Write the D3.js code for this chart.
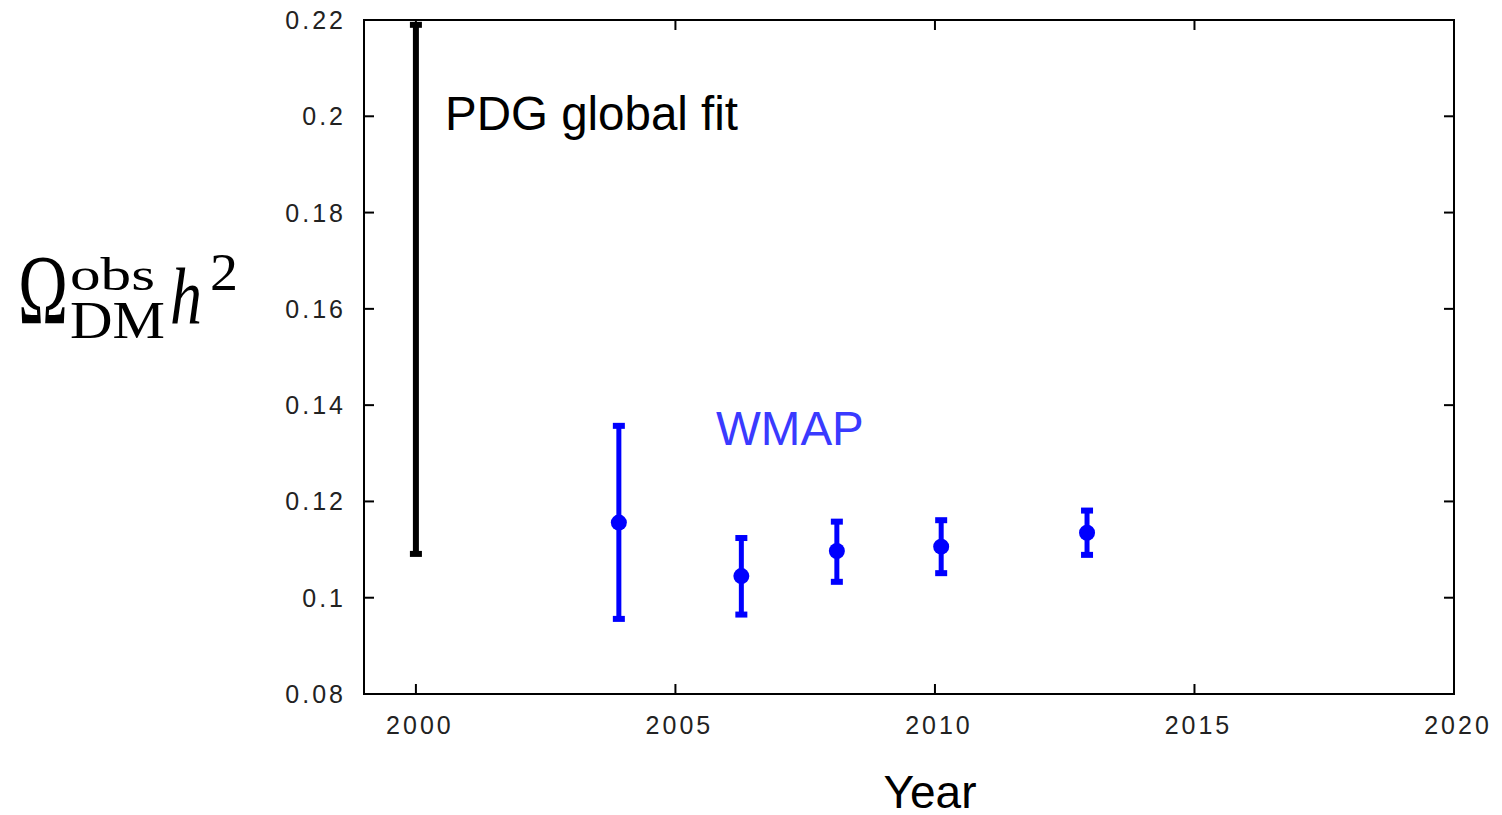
<!DOCTYPE html>
<html>
<head>
<meta charset="utf-8">
<script src="https://cdn.jsdelivr.net/npm/d3@7"></script>
<style>
  body { margin: 0; background: #fff; }
  text { font-family: "Liberation Sans", Arial, sans-serif; }
</style>
</head>
<body>
<div class="chart"></div>
<script>
(function() {
  // data
  var pdgYear = [2000];
  var pdgLow = [0.1091];
  var pdgHigh = [0.219];

  var wmapYear = [2003.91, 2006.27, 2008.11, 2010.12, 2012.93];
  var wmapValue = [0.1156, 0.1045, 0.1097, 0.1106, 0.1135];
  var wmapLow = [0.0956, 0.0965, 0.1033, 0.1051, 0.1089];
  var wmapHigh = [0.1357, 0.1124, 0.1158, 0.1161, 0.1181];

  var xTicks = [2000, 2005, 2010, 2015, 2020];
  var yTicks = [0.08, 0.1, 0.12, 0.14, 0.16, 0.18, 0.2, 0.22];

  var width = 1502, height = 815,
    plot = {left: 364, right: 1454, top: 20, bottom: 694};

  var svg = d3.select(".chart").append("svg")
    .attr("width", width)
    .attr("height", height);

  var x = d3.scaleLinear().domain([1999, 2020]).range([plot.left, plot.right]);
  var y = d3.scaleLinear().domain([0.08, 0.22]).range([plot.bottom, plot.top]);

  var tickLen = 10;
  var ax = svg.append("g").attr("class", "axes");

  // ticks on all four sides, pointing in
  ax.selectAll("line.xb").data(xTicks).enter().append("line")
    .attr("x1", function(d) { return x(d); }).attr("x2", function(d) { return x(d); })
    .attr("y1", plot.bottom).attr("y2", plot.bottom - tickLen)
    .attr("stroke", "#000").attr("stroke-width", 2);
  ax.selectAll("line.xt").data(xTicks).enter().append("line")
    .attr("x1", function(d) { return x(d); }).attr("x2", function(d) { return x(d); })
    .attr("y1", plot.top).attr("y2", plot.top + tickLen)
    .attr("stroke", "#000").attr("stroke-width", 2);
  ax.selectAll("line.yl").data(yTicks).enter().append("line")
    .attr("y1", function(d) { return y(d); }).attr("y2", function(d) { return y(d); })
    .attr("x1", plot.left).attr("x2", plot.left + tickLen)
    .attr("stroke", "#000").attr("stroke-width", 2);
  ax.selectAll("line.yr").data(yTicks).enter().append("line")
    .attr("y1", function(d) { return y(d); }).attr("y2", function(d) { return y(d); })
    .attr("x1", plot.right).attr("x2", plot.right - tickLen)
    .attr("stroke", "#000").attr("stroke-width", 2);

  ax.append("rect")
    .attr("x", plot.left).attr("y", plot.top)
    .attr("width", plot.right - plot.left).attr("height", plot.bottom - plot.top)
    .attr("fill", "none").attr("stroke", "#000").attr("stroke-width", 2);

  ax.selectAll("text.xl").data(xTicks).enter().append("text")
    .attr("x", function(d) { return x(d) + 4; })
    .attr("y", 734)
    .attr("text-anchor", "middle")
    .attr("font-size", 25)
    .attr("letter-spacing", 3)
    .attr("fill", "#222")
    .text(function(d) { return d; });

  ax.selectAll("text.yl").data(yTicks).enter().append("text")
    .attr("x", 346)
    .attr("y", function(d) { return y(d) + 9; })
    .attr("text-anchor", "end")
    .attr("font-size", 25)
    .attr("letter-spacing", 3)
    .attr("fill", "#222")
    .text(function(d) { return d3.format("")(+d.toFixed(2)); });

  // error bars
  function errorBars(g, xs, lo, hi, color, lw, capW) {
    var idx = d3.range(xs.length);
    g.selectAll("line.bar").data(idx).enter().append("line")
      .attr("x1", function(i) { return x(xs[i]); }).attr("x2", function(i) { return x(xs[i]); })
      .attr("y1", function(i) { return y(lo[i]); }).attr("y2", function(i) { return y(hi[i]); })
      .attr("stroke", color).attr("stroke-width", lw);
    [lo, hi].forEach(function(arr) {
      g.selectAll(null).data(idx).enter().append("rect")
        .attr("x", function(i) { return x(xs[i]) - capW / 2; })
        .attr("y", function(i) { return y(arr[i]) - 3; })
        .attr("width", capW).attr("height", 6)
        .attr("fill", color);
    });
  }

  var gp = svg.append("g");
  errorBars(gp, pdgYear, pdgLow, pdgHigh, "#000", 6, 12);

  var gw = svg.append("g");
  errorBars(gw, wmapYear, wmapLow, wmapHigh, "#0000ff", 5, 12);
  gw.selectAll("circle").data(d3.range(wmapYear.length)).enter().append("circle")
    .attr("cx", function(i) { return x(wmapYear[i]); })
    .attr("cy", function(i) { return y(wmapValue[i]); })
    .attr("r", 8)
    .attr("fill", "#0000ff");

  // labels
  svg.append("text").attr("x", 445).attr("y", 130).attr("font-size", 47.5)
    .attr("fill", "#000").text("PDG global fit");
  svg.append("text").attr("x", 716).attr("y", 445).attr("font-size", 47.5)
    .attr("fill", "#3a3aff").text("WMAP");
  svg.append("text").attr("x", 930).attr("y", 808).attr("font-size", 46)
    .attr("text-anchor", "middle").attr("fill", "#000").text("Year");

  // y label: Omega_DM^obs h^2
  var serif = "'Liberation Serif', 'DejaVu Serif', serif";
  var yl = svg.append("g").attr("class", "ylabel");
  yl.append("text").attr("x", 18).attr("y", 323).attr("font-size", 100)
    .style("font-family", serif)
    .attr("textLength", 50).attr("lengthAdjust", "spacingAndGlyphs").text("Ω");
  yl.append("text").attr("x", 70).attr("y", 290).attr("font-size", 46)
    .style("font-family", serif)
    .attr("textLength", 85).attr("lengthAdjust", "spacingAndGlyphs").text("obs");
  yl.append("text").attr("x", 70).attr("y", 338).attr("font-size", 52)
    .style("font-family", serif)
    .attr("textLength", 95).attr("lengthAdjust", "spacingAndGlyphs").text("DM");
  yl.append("text").attr("x", 170).attr("y", 323).attr("font-size", 80)
    .style("font-family", serif).style("font-style", "italic")
    .attr("textLength", 32).attr("lengthAdjust", "spacingAndGlyphs").text("h");
  yl.append("text").attr("x", 210).attr("y", 290).attr("font-size", 52)
    .style("font-family", serif)
    .attr("textLength", 28).attr("lengthAdjust", "spacingAndGlyphs").text("2");
})();
</script>
</body>
</html>
